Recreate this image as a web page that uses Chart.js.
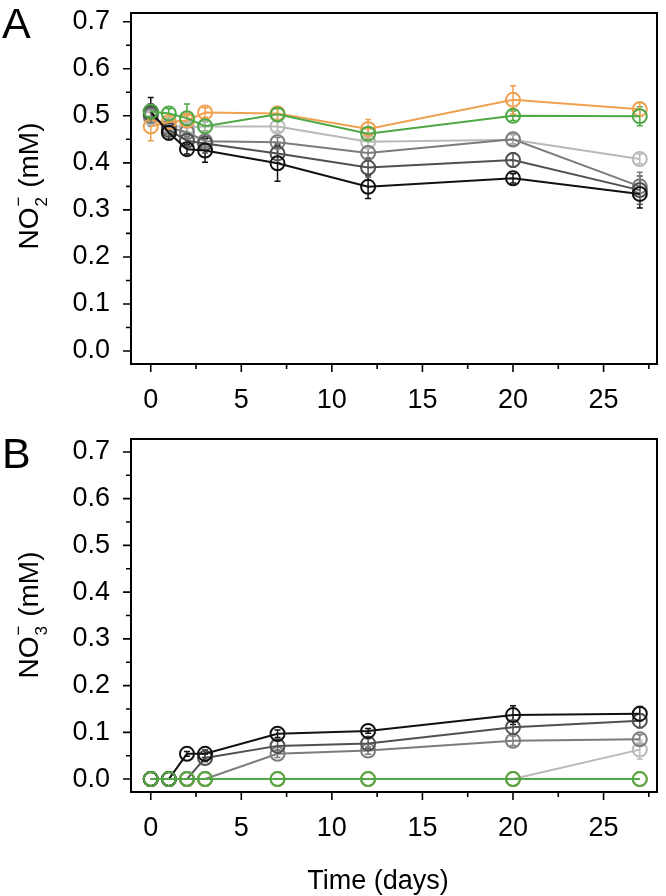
<!DOCTYPE html>
<html>
<head>
<meta charset="utf-8">
<script src="https://cdn.jsdelivr.net/npm/chart.js@4"></script>
<style>
  body { margin: 0; background: #fff; }
  #fig { position: relative; width: 666px; height: 896px; font-family: "Liberation Sans", Arial, sans-serif; }
  #fig canvas { position: absolute; left: 0; }
  .panel { position: absolute; left: 2px; font-size: 43px; line-height: 1; color: #000; }
</style>
</head>
<body>
<div id="fig">
  <canvas id="nitrite" width="666" height="430" style="top:0"></canvas>
  <canvas id="nitrate" width="666" height="466" style="top:430px"></canvas>
  <div class="panel" style="top:2px">A</div>
  <div class="panel" style="top:432px">B</div>
</div>
<script>
const days = [0, 1, 2, 3, 7, 12, 20, 27];
const xTicks = [0, 5, 10, 15, 20, 25];
const yTicks = [0, 0.1, 0.2, 0.3, 0.4, 0.5, 0.6, 0.7];

// panel A, NO2- (mM)
const no2Green = [0.509, 0.505, 0.495, 0.478, 0.503, 0.462, 0.500, 0.499];
const no2GreenSd = [0.01, 0.01, 0.03, 0.01, 0.012, 0.012, 0.01, 0.02];
const no2Black = [0.509, 0.464, 0.429, 0.426, 0.399, 0.349, 0.367, 0.334];
const no2BlackSd = [0.03, 0.015, 0.01, 0.025, 0.038, 0.025, 0.01, 0.03];
const no2Orange = [0.477, 0.487, 0.490, 0.507, 0.505, 0.472, 0.534, 0.514];
const no2OrangeSd = [0.03, 0.01, 0.01, 0.01, 0.015, 0.02, 0.03, 0.015];
const no2Dark = [0.505, 0.470, 0.447, 0.441, 0.420, 0.390, 0.406, 0.342];
const no2DarkSd = [0.02, 0.01, 0.01, 0.02, 0.02, 0.02, 0.015, 0.03];
const no2Mid = [0.500, 0.475, 0.465, 0.446, 0.444, 0.421, 0.450, 0.350];
const no2MidSd = [0.015, 0.01, 0.01, 0.01, 0.01, 0.01, 0.01, 0.03];
const no2Light = [0.495, 0.480, 0.475, 0.477, 0.477, 0.445, 0.449, 0.408];
const no2LightSd = [0.015, 0.01, 0.01, 0.01, 0.01, 0.01, 0.01, 0.01];

// panel B, NO3- (mM)
const no3Green = [0, 0, 0, 0, 0, 0, 0, 0];
const no3Black = [0, 0, 0.054, 0.054, 0.097, 0.103, 0.137, 0.140];
const no3BlackSd = [0, 0, 0.005, 0.008, 0.008, 0.005, 0.02, 0.015];
const no3Orange = [0, 0, 0, 0, 0, 0, 0, 0];
const no3Dark = [0, 0, 0, 0.045, 0.071, 0.076, 0.111, 0.125];
const no3DarkSd = [0, 0, 0, 0.008, 0.01, 0.01, 0.015, 0.015];
const no3Mid = [0, 0, 0, 0, 0.054, 0.061, 0.082, 0.085];
const no3MidSd = [0, 0, 0, 0, 0.008, 0.008, 0.01, 0.01];
const no3Light = [0, 0, 0, 0, 0, 0, 0, 0.063];
const no3LightSd = [0, 0, 0, 0, 0, 0, 0, 0.02];

const ORANGE = "#f0a150";
const GREEN = "#4ea845";
const BLACK = "#111111";
const DARK = "#505050";
const MID = "#7c7c7c";
const LIGHT = "#b9b9b9";

Chart.defaults.font.family = '"Liberation Sans", Arial, sans-serif';
Chart.defaults.color = "#000";

function series(values, sd, color) {
  return {
    data: values.map((v, i) => ({ x: days[i], y: v })),
    sd: sd,
    borderColor: color,
    backgroundColor: "rgba(0,0,0,0)",
    borderWidth: 2,
    pointRadius: 7,
    pointBorderWidth: 2,
    pointBackgroundColor: "rgba(0,0,0,0)",
    pointBorderColor: color,
    tension: 0,
  };
}

// error bars from each dataset's sd array
const errorBars = {
  id: "errorBars",
  beforeDatasetsDraw(chart) {
    const { ctx, scales: { y } } = chart;
    ctx.save();
    ctx.lineWidth = 1.5;
    chart.data.datasets.forEach((ds, i) => {
      if (!ds.sd) return;
      const meta = chart.getDatasetMeta(i);
      ctx.strokeStyle = ds.borderColor;
      meta.data.forEach((pt, j) => {
        const sd = ds.sd[j];
        if (!sd) return;
        const v = ds.data[j].y;
        const top = y.getPixelForValue(v + sd);
        const bot = y.getPixelForValue(v - sd);
        ctx.beginPath();
        ctx.moveTo(pt.x, top);
        ctx.lineTo(pt.x, bot);
        ctx.moveTo(pt.x - 3, top);
        ctx.lineTo(pt.x + 3, top);
        ctx.moveTo(pt.x - 3, bot);
        ctx.lineTo(pt.x + 3, bot);
        ctx.stroke();
      });
    });
    ctx.restore();
  },
};

// box, major and minor ticks, axis titles
const frame = {
  id: "frame",
  afterDraw(chart, args, opts) {
    const { ctx, chartArea: a, scales: { x, y } } = chart;
    ctx.save();
    ctx.strokeStyle = "#000";
    ctx.lineWidth = 2;
    ctx.strokeRect(a.left, a.top, a.right - a.left, a.bottom - a.top);
    ctx.lineWidth = 1.6;
    ctx.beginPath();
    xTicks.forEach((v) => {
      [v, v + 2.5].forEach((t, k) => {
        const px = x.getPixelForValue(t);
        if (px > a.right) return;
        ctx.moveTo(px, a.bottom);
        ctx.lineTo(px, a.bottom + (k ? 5 : 8));
      });
    });
    yTicks.forEach((v) => {
      [v, v + 0.05].forEach((t, k) => {
        const py = y.getPixelForValue(t);
        if (py < a.top) return;
        ctx.moveTo(a.left, py);
        ctx.lineTo(a.left - (k ? 5 : 8), py);
      });
    });
    ctx.stroke();

    // y title: NOx- (mM) with stacked sub/superscript
    ctx.fillStyle = "#000";
    ctx.translate(38, opts.yTitleCenter);
    ctx.rotate(-Math.PI / 2);
    const big = '28px "Liberation Sans", Arial, sans-serif';
    const small = '17px "Liberation Sans", Arial, sans-serif';
    ctx.font = big;
    const wNO = ctx.measureText("NO").width;
    const wRest = ctx.measureText(" (mM)").width;
    ctx.font = small;
    const wSub = Math.max(ctx.measureText(opts.sub).width, ctx.measureText("\u2212").width);
    let cx = -(wNO + wSub + wRest) / 2;
    ctx.textBaseline = "alphabetic";
    ctx.textAlign = "left";
    ctx.font = big;
    ctx.fillText("NO", cx, 0);
    cx += wNO;
    ctx.font = small;
    ctx.fillText(opts.sub, cx + 1, 9);
    ctx.fillText("\u2212", cx + 1, -14);
    cx += wSub + 2;
    ctx.font = big;
    ctx.fillText(" (mM)", cx, 0);
    ctx.restore();

    if (opts.xTitle) {
      ctx.save();
      ctx.fillStyle = "#000";
      ctx.font = '27px "Liberation Sans", Arial, sans-serif';
      ctx.textAlign = "center";
      ctx.textBaseline = "alphabetic";
      ctx.fillText(opts.xTitle, 378, opts.xTitleBaseline);
      ctx.restore();
    }
  },
};

function makeChart(id, datasets, yMin, yMax, padTop, xHeight, frameOpts) {
  return new Chart(document.getElementById(id), {
    type: "line",
    data: { datasets: datasets },
    options: {
      responsive: false,
      animation: false,
      layout: { padding: { top: padTop, right: 4, left: 0, bottom: 0 } },
      plugins: { legend: { display: false }, tooltip: { enabled: false }, frame: frameOpts },
      scales: {
        x: {
          type: "linear",
          min: -1.09,
          max: 27.95,
          grid: { display: false, drawTicks: false },
          border: { display: false },
          afterBuildTicks: (s) => { s.ticks = xTicks.map((v) => ({ value: v })); },
          afterFit: (s) => { s.height = xHeight; s.paddingLeft = 0; s.paddingRight = 0; },
          ticks: { font: { size: 27 }, padding: 20, maxRotation: 0, callback: (v) => String(v) },
        },
        y: {
          min: yMin,
          max: yMax,
          grid: { display: false, drawTicks: false },
          border: { display: false },
          afterBuildTicks: (s) => { s.ticks = yTicks.map((v) => ({ value: v })); },
          afterFit: (s) => { s.width = 131; s.paddingTop = 0; s.paddingBottom = 0; },
          ticks: { font: { size: 27 }, padding: 21, callback: (v) => v.toFixed(1) },
        },
      },
    },
    plugins: [errorBars, frame],
  });
}

makeChart(
  "nitrite",
  [
    series(no2Green, no2GreenSd, GREEN),
    series(no2Black, no2BlackSd, BLACK),
    series(no2Orange, no2OrangeSd, ORANGE),
    series(no2Dark, no2DarkSd, DARK),
    series(no2Mid, no2MidSd, MID),
    series(no2Light, no2LightSd, LIGHT),
  ],
  -0.0276, 0.7185, 13, 66,
  { yTitleCenter: 187, sub: "2" }
);

makeChart(
  "nitrate",
  [
    series(no3Green, null, GREEN),
    series(no3Black, no3BlackSd, BLACK),
    series(no3Orange, null, ORANGE),
    series(no3Dark, no3DarkSd, DARK),
    series(no3Mid, no3MidSd, MID),
    series(no3Light, no3LightSd, LIGHT),
  ],
  -0.0277, 0.7277, 8, 104,
  { yTitleCenter: 186, sub: "3", xTitle: "Time (days)", xTitleBaseline: 459 }
);
</script>
</body>
</html>
